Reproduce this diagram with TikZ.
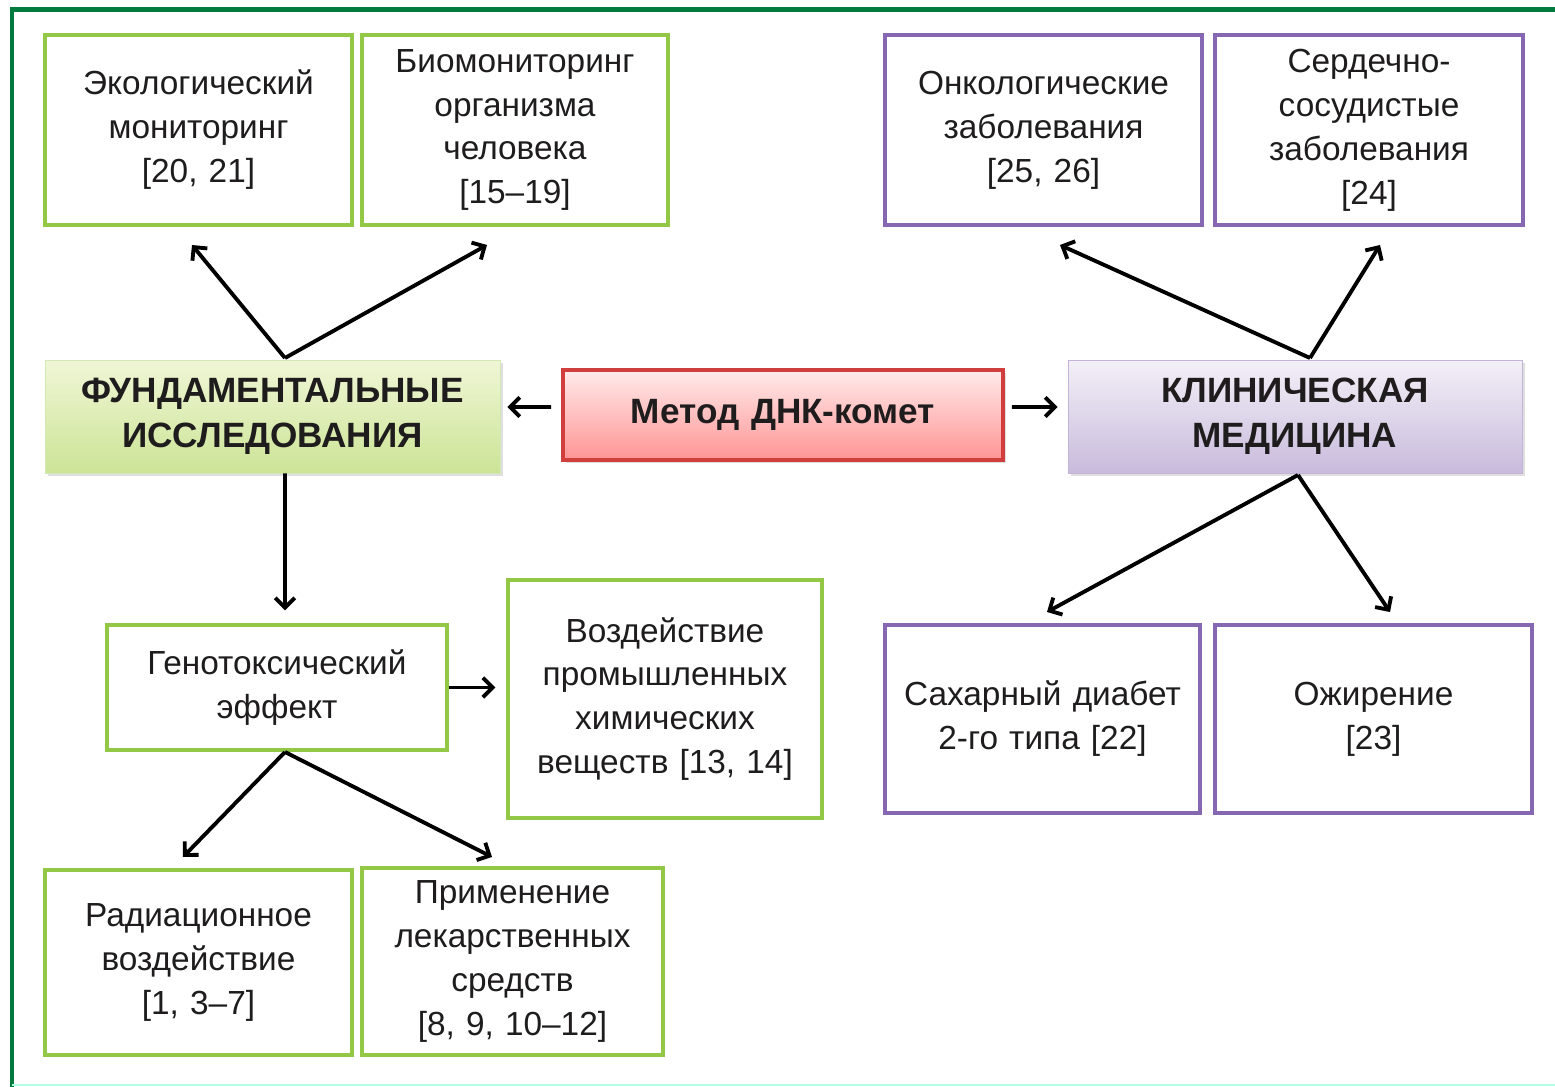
\documentclass[tikz,border=0pt]{standalone}
\usepackage{fontspec}
\setmainfont{Liberation Sans}
\usetikzlibrary{arrows.meta, shadows}
\definecolor{framegreen}{RGB}{0,122,61}
\definecolor{leafgreen}{RGB}{146,200,70}
\definecolor{clinviolet}{RGB}{134,104,178}
\definecolor{textgray}{RGB}{30,28,28}
\definecolor{fundtop}{RGB}{240,246,214}
\definecolor{fundbottom}{RGB}{204,228,150}
\definecolor{metodline}{RGB}{208,62,62}
\tikzstyle{greenbox} = [rectangle, draw=leafgreen, line width=2pt, fill=white, align=center, inner sep=0pt, text=textgray, font=\fontsize{19}{25}\selectfont]
\tikzstyle{violetbox} = [greenbox, draw=clinviolet]
\tikzstyle{headbox} = [rectangle, align=center, inner sep=0pt, text=textgray, font=\bfseries\fontsize{20}{25.6}\selectfont,
drop shadow={opacity=0.25, shadow xshift=0.06cm, shadow yshift=-0.06cm}]
\tikzstyle{arrow} = [line width=2.2pt,->,>={Straight Barb[length=5.5pt,width=11pt]}]

\begin{document}
\begin{tikzpicture}[x=0.02cm, y=-0.02cm]
\useasboundingbox (0,0) rectangle (1555,1087);

% frame
\draw[framegreen, line width=0.1cm] (12,1087) -- (12,10) -- (1555,10);
\draw[green!30!cyan!30, line width=0.04cm] (12,1085) -- (1555,1085);

% top row
\node (eco) [greenbox, text width=6.14cm, minimum height=3.8cm] at (198.5,130) {Экологический\\мониторинг\\{}[20, 21]\\[0.4cm]};
\node (bio) [greenbox, text width=6.12cm, minimum height=3.8cm] at (515,130) {Биомониторинг\\организма\\человека\\{}[15--19]};
\node (onko) [violetbox, text width=6.34cm, minimum height=3.8cm] at (1043.5,130) {Онкологические\\заболевания\\{}[25, 26]\\[0.4cm]};
\node (cardio) [violetbox, text width=6.16cm, minimum height=3.8cm] at (1369,130) {Сердечно-\\сосудистые\\заболевания\\{}[24]};

% middle row
\node (fund) [headbox, draw=leafgreen!40, top color=fundtop, bottom color=fundbottom,
text width=9.1cm, minimum height=2.26cm] at (272.5,416.5) {ФУНДАМЕНТАЛЬНЫЕ\\ИССЛЕДОВАНИЯ};
\node (metod) [headbox, draw=metodline, line width=2.3pt, top color=red!8, bottom color=red!42,
text width=8.8cm, minimum height=1.8cm] at (783,415) {Метод ДНК-комет};
\node (klin) [headbox, draw=clinviolet!50, top color=clinviolet!10, bottom color=clinviolet!45,
text width=9.08cm, minimum height=2.26cm] at (1295,416.5) {КЛИНИЧЕСКАЯ\\МЕДИЦИНА};

% lower rows
\node (geno) [greenbox, text width=6.8cm, minimum height=2.5cm] at (277,687.5) {Генотоксический\\эффект};
\node (vozd) [greenbox, text width=6.28cm, minimum height=4.76cm] at (665,699) {Воздействие\\промышленных\\химических\\веществ [13, 14]};
\node (sahar) [violetbox, text width=6.3cm, minimum height=3.76cm] at (1042.5,719) {Сахарный диабет\\2-го типа [22]};
\node (ozhir) [violetbox, text width=6.34cm, minimum height=3.76cm] at (1373.5,719) {Ожирение\\{}[23]};
\node (rad) [greenbox, text width=6.14cm, minimum height=3.7cm] at (198.5,962.5) {Радиационное\\воздействие\\{}[1, 3--7]};
\node (prim) [greenbox, text width=6.02cm, minimum height=3.74cm] at (512.5,961.5) {Применение\\лекарственных\\средств\\{}[8, 9, 10--12]};

% branch points and arrow tips
\coordinate (fundtop) at (285,358);
\coordinate (klintop) at (1310,358);
\coordinate (klinbot) at (1298,475);
\coordinate (genobot) at (285,752);
\coordinate (ecotip) at (192,245);
\coordinate (biotip) at (487,245);
\coordinate (onkotip) at (1060,245);
\coordinate (cardiotip) at (1380,245);
\coordinate (sahartip) at (1047,612);
\coordinate (ozhirtip) at (1390,612);
\coordinate (radtip) at (183,857);
\coordinate (primtip) at (492,857);

\draw [arrow] (fundtop) -- (ecotip);
\draw [arrow] (fundtop) -- (biotip);
\draw [arrow] (klintop) -- (onkotip);
\draw [arrow] (klintop) -- (cardiotip);
\draw [arrow, shorten <=0.2cm, shorten >=0.14cm] ([yshift=0.16cm]metod.west) -- ([yshift=0.19cm]fund.east);
\draw [arrow, shorten <=0.14cm, shorten >=0.2cm] ([yshift=0.16cm]metod.east) -- ([yshift=0.19cm]klin.west);
\draw [arrow, shorten >=0.26cm] ([xshift=0.25cm]fund.south) -- ([xshift=0.16cm]geno.north);
\draw [arrow, shorten >=0.22cm] (geno.east) -- (geno.east -| vozd.west);
\draw [arrow] (genobot) -- (radtip);
\draw [arrow] (genobot) -- (primtip);
\draw [arrow] (klinbot) -- (sahartip);
\draw [arrow] (klinbot) -- (ozhirtip);

\end{tikzpicture}
\end{document}
